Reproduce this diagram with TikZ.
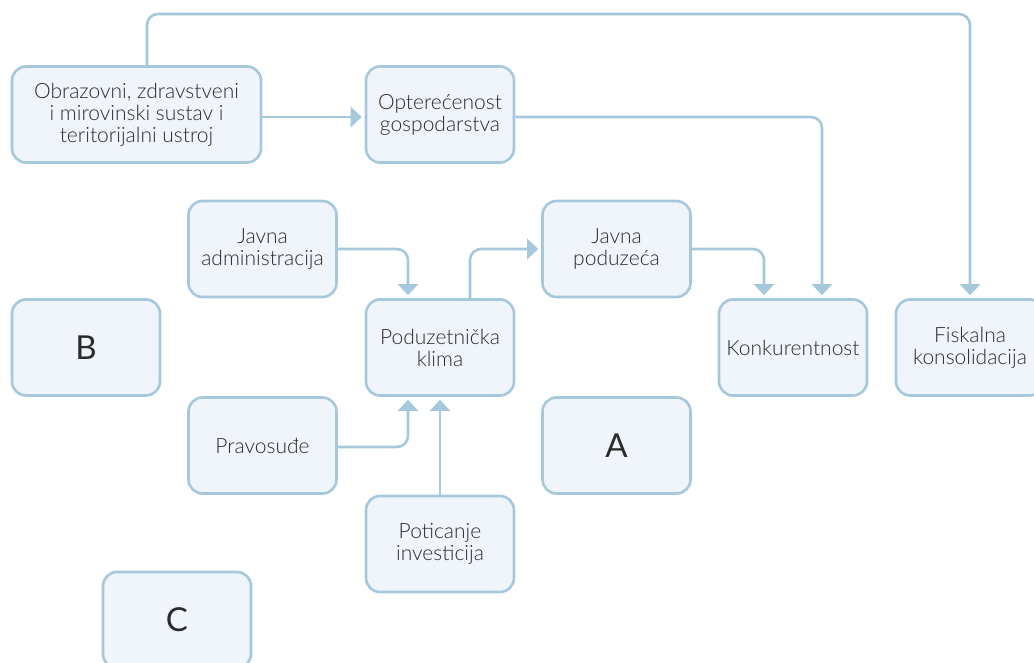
\documentclass[tikz,border=0pt]{standalone}
\usepackage{fontspec}
\setmainfont{Lato}[UprightFont=*-Light]
\newfontfamily\slovofont{Lato}
\usepackage{xcolor}
\usetikzlibrary{arrows.meta, positioning, calc}
\definecolor{boxline}{HTML}{A6C8DC}
\definecolor{boxfill}{HTML}{EFF5FA}
\definecolor{txt}{HTML}{2B2B2B}

\begin{document}
\begin{tikzpicture}[x=1pt, y=-1pt,
  every node/.style={font=\fontsize{21}{22}\selectfont, text=txt},
  blok/.style={draw=boxline, fill=boxfill, line width=2.6pt, rounded corners=14pt,
    minimum width=148pt, minimum height=96pt, align=center, inner sep=2pt},
  slovo/.style={blok, font=\fontsize{33}{33}\selectfont\slovofont},
  veza/.style={draw=boxline, line width=2.6pt, rounded corners=11pt,
    -{Triangle[width=20pt,length=11pt]}, shorten >=3pt}]
\useasboundingbox (0,0) rectangle (1034,663);
\clip (0,0) rectangle (1034,663);
% gornji red
\node[blok, minimum width=249pt] (obr) at (136.5,114.5) {Obrazovni, zdravstveni\\i mirovinski sustav i\\teritorijalni ustroj};
\node[blok] (opt) at (440,114.5) {Optere\'cenost\\gospodarstva};
% srednji dio
\node[blok] (adm) at (262.5,249) {Javna\\administracija};
\node[blok] (jpod) at (616.5,249) {Javna\\poduze\'ca};
\node[blok] (klima) at (440,347.5) {Poduzetni\v{c}ka\\klima};
\node[blok] (konk) at (793,347.5) {Konkurentnost};
\node[blok] (fisk) at (970,347.5) {Fiskalna\\konsolidacija};
\node[blok] (prav) at (262.5,445.5) {Pravosu\dj e};
\node[blok] (potic) at (440,544) {Poticanje\\investicija};
% prazna polja
\node[slovo] (b) at (86,347.5) {B};
\node[slovo] (a) at (616.5,445.5) {A};
\node[slovo] (c) at (177,620) {C};
% veze
\coordinate (vrh) at (970,14);
\draw[veza] ([xshift=10.5pt]obr.north) |- (vrh) -- (fisk.north);
\draw[veza] ([yshift=-2.5pt]obr.east) -- ([yshift=-2.5pt]opt.west);
\draw[veza] ([yshift=-2.5pt]opt.east) -| ([xshift=29pt]konk.north);
\draw[veza] (adm.east) -| ([xshift=-32pt]klima.north);
\draw[veza] ([xshift=30pt]klima.north) |- (jpod.west);
\draw[veza] (jpod.east) -| ([xshift=-29pt]konk.north);
\draw[veza] ([yshift=-1.5pt]prav.east) -| ([xshift=-32pt]klima.south);
\draw[veza] (potic.north) -- (klima.south);
\end{tikzpicture}
\end{document}
